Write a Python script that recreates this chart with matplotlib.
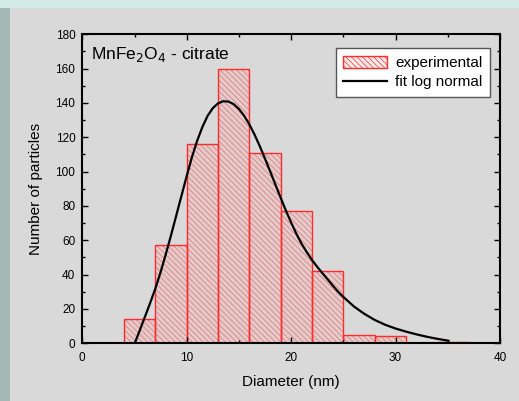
import matplotlib.pyplot as plt
from matplotlib.patches import Rectangle, Patch
from matplotlib.ticker import MultipleLocator

plt.rcParams['font.family'] = ['Liberation Sans', 'DejaVu Sans']
plt.rcParams['hatch.linewidth'] = 0.5

# histogram bins (left edge, nm) and counts
bin_left = [4, 7, 10, 13, 16, 19, 22, 25, 28, 31, 34]
counts = [14, 57, 116, 160, 111, 77, 42, 5, 4, 0, 1]
bin_width = 3

# log-normal fit curve
fit_x = [5.05, 5.5, 6.0, 6.5, 7.0, 7.5, 8.0, 8.5, 9.0, 9.5, 10.0, 10.5, 11.0,
         11.5, 12.0, 12.5, 13.0, 13.5, 14.0, 14.5, 15.0, 15.5, 16.0, 16.5,
         17.0, 17.5, 18.0, 18.5, 19.0, 19.5, 20.0, 20.5, 21.0, 21.5, 22.0,
         22.5, 23.0, 23.5, 24.0, 24.5, 25.0, 26.0, 27.0, 28.0, 29.0, 30.0,
         31.0, 32.0, 33.0, 34.0, 35.06]
fit_y = [0.5, 7.5, 15.5, 23.5, 32.0, 41.5, 52.0, 63.0, 74.5, 86.0, 97.5,
         108.5, 118.0, 126.0, 132.5, 137.0, 139.8, 141.0, 140.8, 139.3, 136.5,
         132.5, 127.5, 121.5, 114.8, 107.5, 100.0, 92.3, 84.7, 77.3, 70.3,
         63.8, 58.0, 53.0, 48.5, 44.5, 40.8, 37.2, 33.5, 30.0, 27.0, 21.5,
         17.2, 13.6, 10.8, 8.6, 6.8, 5.2, 3.8, 2.6, 1.5]

RED = '#ff2a2a'
HATCH_RED = '#f36a6a'
FILL = (1.0, 0.6, 0.6, 0.18)


def main():
    fig = plt.figure(figsize=(5.19, 4.01), dpi=100)
    fig.patch.set_facecolor('#d9d9d9')
    # slide-style borders
    fig.add_artist(Rectangle((0, 1 - 8 / 401), 1, 8 / 401, transform=fig.transFigure,
                             facecolor='#d2ebe4', edgecolor='none'))
    fig.add_artist(Rectangle((0, 0), 10 / 519, 1 - 8 / 401, transform=fig.transFigure,
                             facecolor='#a3bab4', edgecolor='none'))

    ax = fig.add_axes([82.3 / 519, 57.7 / 401, 417.7 / 519, 309 / 401])
    ax.set_facecolor('#d9d9d9')

    # hatched fill, then crisp outline
    ax.bar(bin_left, counts, width=bin_width, align='edge', facecolor=FILL,
           edgecolor=HATCH_RED, hatch='\\' * 6, linewidth=0)
    ax.bar(bin_left, counts, width=bin_width, align='edge', facecolor='none',
           edgecolor=RED, linewidth=1.0)
    line, = ax.plot(fit_x, fit_y, color='black', lw=1.6)

    ax.set_xlim(0, 40)
    ax.set_ylim(0, 180)
    ax.xaxis.set_major_locator(MultipleLocator(10))
    ax.xaxis.set_minor_locator(MultipleLocator(5))
    ax.yaxis.set_major_locator(MultipleLocator(20))
    ax.yaxis.set_minor_locator(MultipleLocator(10))
    ax.tick_params(which='both', direction='in', top=True, right=True,
                   labelsize=8.5, width=1.0)
    ax.tick_params(axis='x', pad=6)
    ax.tick_params(axis='y', pad=5)
    ax.tick_params(which='major', length=4)
    ax.tick_params(which='minor', length=2.5)
    for s in ax.spines.values():
        s.set_linewidth(1.5)

    ax.set_xlabel('Diameter (nm)', fontsize=11, labelpad=8)
    ax.set_ylabel('Number of particles', fontsize=11, labelpad=9)
    ax.text(0.021, 0.965, r'MnFe$_2$O$_4$ - citrate', transform=ax.transAxes,
            fontsize=12.5, va='top', ha='left')

    exp_handle = Patch(facecolor=FILL, edgecolor=RED, hatch='\\' * 6,
                       linewidth=1.0)
    leg = ax.legend([exp_handle, line], ['experimental', 'fit log normal'],
                    loc='upper right', bbox_to_anchor=(0.976, 0.956),
                    fontsize=11, fancybox=False, framealpha=1,
                    edgecolor='#555555', handlelength=2.9, handleheight=0.9,
                    borderpad=0.5, labelspacing=0.3, handletextpad=0.5,
                    borderaxespad=0)
    leg.get_frame().set_linewidth(1.0)

    plt.savefig('out.png', dpi=100, facecolor=fig.get_facecolor())


if __name__ == "__main__":
    main()
